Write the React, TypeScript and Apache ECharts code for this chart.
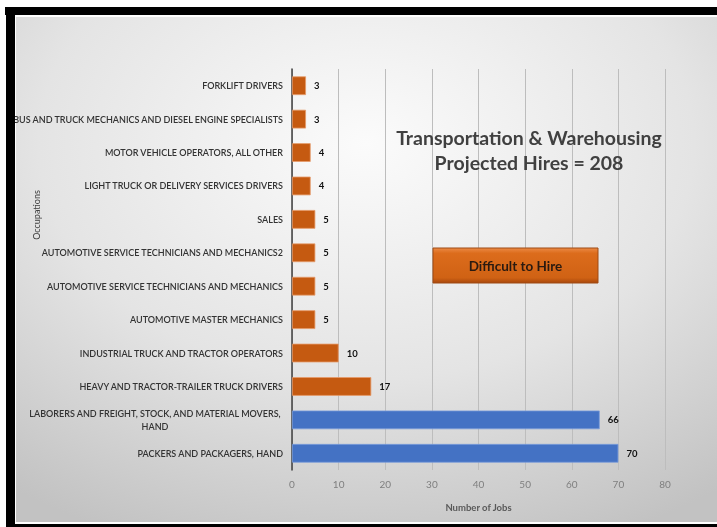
import React, { useEffect, useRef } from "react";
import * as echarts from "echarts";

const categories: string[] = [
  "FORKLIFT DRIVERS",
  "BUS AND TRUCK MECHANICS AND DIESEL ENGINE SPECIALISTS",
  "MOTOR VEHICLE OPERATORS, ALL OTHER",
  "LIGHT TRUCK OR DELIVERY SERVICES DRIVERS",
  "SALES",
  "AUTOMOTIVE SERVICE TECHNICIANS AND MECHANICS2",
  "AUTOMOTIVE SERVICE TECHNICIANS AND MECHANICS",
  "AUTOMOTIVE MASTER MECHANICS",
  "INDUSTRIAL TRUCK AND TRACTOR OPERATORS",
  "HEAVY AND TRACTOR-TRAILER TRUCK DRIVERS",
  "LABORERS AND FREIGHT, STOCK, AND MATERIAL MOVERS,\nHAND",
  "PACKERS AND PACKAGERS, HAND",
];
const jobs: number[] = [3, 3, 4, 4, 5, 5, 5, 5, 10, 17, 66, 70];
const difficultToHire: boolean[] = [true, true, true, true, true, true, true, true, true, true, false, false];
const xTicks = { min: 0, max: 80, interval: 10 };
const titleLines = ["Transportation & Warehousing", "Projected Hires = 208"];
const legendText = "Difficult to Hire";
const xAxisName = "Number of Jobs";
const yAxisName = "Occupations";

const FONT = "Lato";
const ORANGE = "#C55A11";
const BLUE = "#4472C4";

export default function App() {
  const ref = useRef<HTMLDivElement>(null);
  useEffect(() => {
    if (!ref.current) return;
    const chart = echarts.init(ref.current, null, { renderer: "svg" });
    chart.setOption({
      animation: false,
      textStyle: { fontFamily: FONT },
      graphic: [
        { type: "rect", z: -10, silent: true, shape: { x: 0, y: 0, width: 717, height: 527 }, style: { fill: "#ffffff" } },
        {
          type: "rect", z: -9, silent: true,
          shape: { x: 16, y: 17, width: 701, height: 505 },
          style: {
            fill: new echarts.graphic.RadialGradient(0.5, 0.25, 0.85, [
              { offset: 0, color: "#fbfbfb" },
              { offset: 0.55, color: "#e4e4e4" },
              { offset: 1, color: "#c2c2c2" },
            ]),
          },
        },
        { type: "rect", z: 100, silent: true, shape: { x: 5, y: 7, width: 712, height: 8 }, style: { fill: "#000" } },
        { type: "rect", z: 100, silent: true, shape: { x: 6, y: 7, width: 9, height: 520 }, style: { fill: "#000" } },
        { type: "rect", z: 100, silent: true, shape: { x: 6, y: 524, width: 711, height: 3 }, style: { fill: "#000" } },
        {
          type: "text", z: 50, x: 36, y: 215, rotation: Math.PI / 2,
          style: { text: yAxisName, fontFamily: FONT, fontSize: 9, fill: "#404040", align: "center", verticalAlign: "middle" },
        },
        {
          type: "text", z: 50, x: 529, y: 150,
          style: {
            text: titleLines.join("\n"), fontFamily: FONT, fontSize: 19.5, lineHeight: 25,
            fill: "#404040", align: "center", verticalAlign: "middle", fontWeight: "bold",
          },
        },
        {
          type: "rect", z: 50,
          shape: { x: 433, y: 248, width: 165, height: 35 },
          style: {
            fill: new echarts.graphic.LinearGradient(0, 0, 0, 1, [
              { offset: 0, color: "#EC8A45" },
              { offset: 0.15, color: "#DC6C1C" },
              { offset: 0.85, color: "#D06214" },
              { offset: 1, color: "#A9480C" },
            ]),
            stroke: "#9E4A14", lineWidth: 1,
          },
        },
        {
          type: "text", z: 51, x: 515.5, y: 266,
          style: { text: legendText, fontFamily: FONT, fontSize: 13.5, fontWeight: "bold", fill: "#2a1a10", align: "center", verticalAlign: "middle" },
        },
      ],
      grid: { left: 292, right: 52, top: 69, bottom: 57, containLabel: false },
      xAxis: {
        type: "value",
        min: xTicks.min, max: xTicks.max, interval: xTicks.interval,
        name: xAxisName, nameLocation: "middle", nameGap: 32,
        nameTextStyle: { fontFamily: FONT, fontSize: 9.5, color: "#595959", fontWeight: "bold" },
        axisLine: { show: false },
        axisTick: { show: false },
        axisLabel: { fontFamily: FONT, fontSize: 10, color: "#7f7f7f", margin: 9 },
        splitLine: { show: true, lineStyle: { color: "#bdbdbd", width: 1 } },
      },
      yAxis: {
        type: "category", inverse: true, data: categories,
        axisLine: { show: true, lineStyle: { color: "#404040", width: 1.5 } },
        axisTick: { show: false },
        axisLabel: {
          fontFamily: FONT, fontSize: 9, color: "#333333", margin: 9, interval: 0, fontWeight: 600,
          formatter: (v: string) => (v.includes("\n") ? v.split("\n").map((s) => `{c|${s}}`).join("\n") : v),
          rich: { c: { width: 256, align: "center", fontFamily: FONT, fontSize: 9, fontWeight: 600, color: "#333333", lineHeight: 13 } },
        },
      },
      series: [
        {
          type: "bar",
          barCategoryGap: "44%",
          data: jobs.map((v, i) => ({
            value: v,
            itemStyle: {
              color: difficultToHire[i] ? ORANGE : BLUE,
              borderColor: difficultToHire[i] ? "#E69A6A" : "#7A9CDB",
              borderWidth: 0.8,
            },
          })),
          label: {
            show: true, position: "right", distance: 8,
            fontFamily: FONT, fontSize: 9.5, fontWeight: "bold", color: "#111",
          },
        },
      ],
    });
    return () => chart.dispose();
  }, []);
  return <div ref={ref} style={{ position: "fixed", left: 0, top: 0, width: 717, height: 527 }} />;
}
